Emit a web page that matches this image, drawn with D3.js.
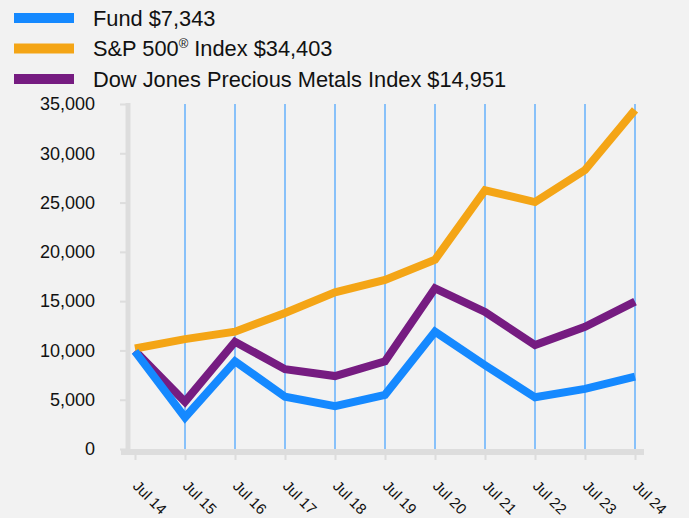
<!DOCTYPE html>
<html lang="en">
<head>
<meta charset="UTF-8">
<title>Growth of $10,000</title>
<style>
  body { margin: 0; background: #f2f2f2; }
  svg { font-family: "Liberation Sans", Arial, sans-serif; }
  .axis path, .axis line { stroke: #dddddd; }
  .axis text { fill: #111; }
</style>
</head>
<body>
<svg height="518" width="689"></svg>
<script src="https://d3js.org/d3.v7.min.js"></script>
<script>

  var years = ['Jul 14', 'Jul 15', 'Jul 16', 'Jul 17', 'Jul 18', 'Jul 19', 'Jul 20', 'Jul 21', 'Jul 22', 'Jul 23', 'Jul 24'];
  var fund = [9900, 3200, 8900, 5300, 4350, 5500, 11900, 8500, 5250, 6100, 7343];
  var sp500 = [10200, 11150, 11900, 13800, 15900, 17150, 19200, 26250, 25050, 28300, 34403];
  var preciousMetals = [9950, 4800, 10880, 8100, 7400, 8900, 16300, 13900, 10550, 12400, 14951];
  var yTicks = [0, 5000, 10000, 15000, 20000, 25000, 30000, 35000];

  var series = [
    {name: 'Fund $7,343', values: fund, color: '#1589ff'},
    {name: 'S&P 500', sup: '®', rest: ' Index $34,403', values: sp500, color: '#f4a516'},
    {name: 'Dow Jones Precious Metals Index $14,951', values: preciousMetals, color: '#761c81'}
  ];

  var svg = d3.select('svg');

  var x = d3.scalePoint().domain(years).range([135, 635]);
  var y = d3.scaleLinear().domain([0, 35000]).range([449, 104]);

  // vertical grid lines
  svg.append('g')
    .selectAll('line')
    .data(years.slice(1))
    .enter()
    .append('line')
    .attr('x1', function(d) { return x(d); })
    .attr('x2', function(d) { return x(d); })
    .attr('y1', y(35000))
    .attr('y2', y(0))
    .attr('stroke', '#6db4fb')
    .attr('stroke-width', 1.6);

  // y axis
  var yAxis = d3.axisLeft(y).tickValues(yTicks).tickSize(8).tickPadding(25)
    .tickFormat(d3.format(','));
  var yg = svg.append('g')
    .attr('class', 'axis')
    .attr('transform', 'translate(128,0)')
    .call(yAxis);
  yg.select('.domain').remove();
  yg.selectAll('line').attr('stroke-width', 2);
  yg.selectAll('text').style('font-size', '18px');
  yg.append('line')
    .attr('x1', 0).attr('x2', 0)
    .attr('y1', y(35000) - 1).attr('y2', y(0) + 6)
    .attr('stroke', '#dddddd').attr('stroke-width', 5);

  // x axis
  var xAxis = d3.axisBottom(x).tickSize(8).tickFormat('');
  var xg = svg.append('g')
    .attr('class', 'axis')
    .attr('transform', 'translate(0,452)')
    .call(xAxis);
  xg.select('.domain').remove();
  xg.selectAll('line').attr('stroke-width', 2);
  xg.append('line')
    .attr('x1', 121).attr('x2', 644)
    .attr('y1', 0).attr('y2', 0)
    .attr('stroke', '#dddddd').attr('stroke-width', 6);

  svg.append('g')
    .selectAll('text')
    .data(years)
    .enter()
    .append('text')
    .attr('transform', function(d) { return 'translate(' + (x(d) - 3) + ',487) rotate(45)'; })
    .style('font-size', '15px')
    .attr('fill', '#111')
    .text(function(d) { return d; });

  // lines
  var line = d3.line()
    .x(function(d, i) { return x(years[i]); })
    .y(function(d) { return y(d); });

  svg.append('g')
    .selectAll('path')
    .data(series.slice().reverse())
    .enter()
    .append('path')
    .attr('d', function(d) { return line(d.values); })
    .attr('fill', 'none')
    .attr('stroke', function(d) { return d.color; })
    .attr('stroke-width', 8)
    .attr('stroke-linejoin', 'miter');

  // legend
  var legend = svg.append('g')
    .selectAll('g')
    .data(series)
    .enter()
    .append('g')
    .attr('transform', function(d, i) { return 'translate(14,' + (18 + i * 30.5) + ')'; });

  legend.append('rect')
    .attr('x', 0).attr('y', -5)
    .attr('width', 60).attr('height', 10)
    .attr('fill', function(d) { return d.color; });

  var legendText = legend.append('text')
    .attr('x', 79)
    .attr('y', 7.5)
    .style('font-size', '21.8px')
    .attr('fill', '#111');
  legendText.append('tspan').text(function(d) { return d.name; });
  legendText.filter(function(d) { return d.sup; })
    .append('tspan').attr('dy', -8).style('font-size', '13px').text(function(d) { return d.sup; });
  legendText.filter(function(d) { return d.rest; })
    .append('tspan').attr('dy', 8).text(function(d) { return d.rest; });

</script>
</body>
</html>
